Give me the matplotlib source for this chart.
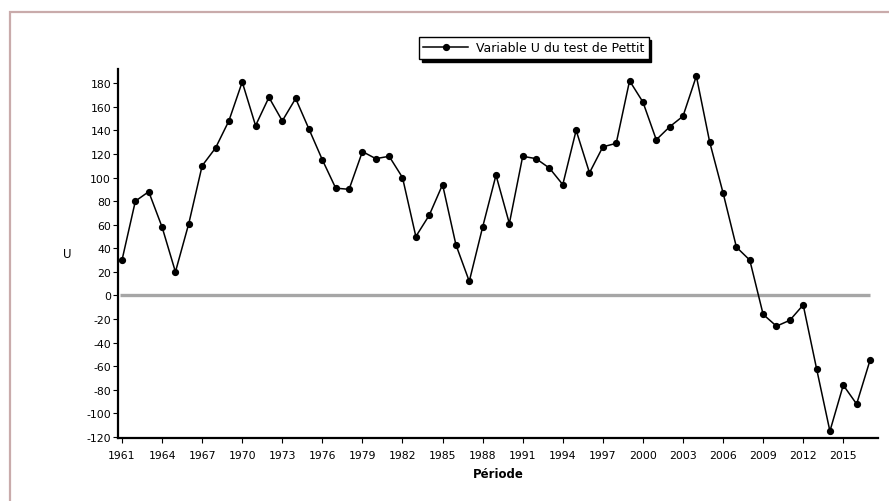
import matplotlib
matplotlib.use("Agg")
import matplotlib.pyplot as plt
from matplotlib.patches import Rectangle

plt.rcParams['font.family'] = ['DejaVu Sans']
plt.rcParams['axes.unicode_minus'] = False

# Pettitt test statistic U per year
years = list(range(1961, 2018))
u_values = [30, 80, 88, 58, 20, 61, 110, 125, 148, 181,
            144, 168, 148, 167, 141, 115, 91, 90, 122, 116,
            118, 100, 50, 68, 94, 43, 12, 58, 102, 61,
            118, 116, 108, 94, 140, 104, 126, 129, 182, 164,
            132, 143, 152, 186, 130, 87, 41, 30, -16, -26,
            -21, -8, -62, -115, -76, -92, -55]
tick_years = list(range(1961, 2016, 3))
y_ticks = list(range(-120, 181, 20))

fig = plt.figure(figsize=(8.89, 5.02), dpi=100)

# outer frame
fig.patches.append(Rectangle((10 / 889, -0.1), 1.2, 1 - 13 / 502 + 0.1,
                             transform=fig.transFigure, fill=False,
                             edgecolor='#c9abab', linewidth=1.6))

ax = fig.add_axes([118 / 889, 1 - 439 / 502, 760 / 889, 369 / 502])

ax.hlines(0, 1960.85, years[-1], color='#a6a6a6', linewidth=2.4, zorder=1)
ax.plot(years, u_values, color='black', linewidth=1.1, marker='o',
        markersize=4.2, label='Variable U du test de Pettit', zorder=3)

ax.set_xlim(1960.7, 2017.6)
ax.set_ylim(-120.8, 192)
ax.set_xticks(tick_years)
ax.set_yticks(y_ticks)
ax.tick_params(labelsize=7.8, length=3.5, width=0.8)
ax.tick_params(axis='x', pad=5)
ax.tick_params(axis='y', pad=1.5)

for side in ['top', 'right']:
    ax.spines[side].set_visible(False)
for side in ['left', 'bottom']:
    ax.spines[side].set_linewidth(1.6)

ax.set_xlabel('Période', fontsize=8.5, fontweight='bold', labelpad=5)
ax.set_ylabel('U', fontsize=8.5, rotation=0, labelpad=14, va='center')

ax.legend(loc='center', bbox_to_anchor=(0.547, 1.057), fontsize=9,
          frameon=True, fancybox=False, edgecolor='black', framealpha=1,
          shadow={'color': 'black', 'alpha': 1}, handlelength=3.6,
          borderpad=0.35, handletextpad=0.6, borderaxespad=0)

fig.savefig('out.png', dpi=100)
